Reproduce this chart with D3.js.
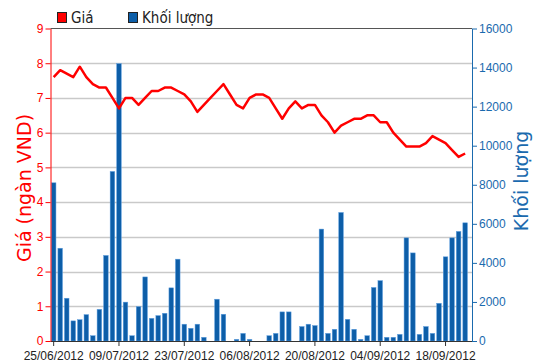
<!DOCTYPE html>
<html>
<head>
<meta charset="utf-8">
<script src="https://cdn.jsdelivr.net/npm/d3@7"></script>
<style>
    body { margin: 0; background: #fff; }
    .tick-lbl { font-family: "Liberation Sans Narrow", "Liberation Sans", Arial, sans-serif; font-size: 12px; }
</style>
</head>
<body>
<div id="chart-area"></div>
<script>

// price (ngàn VND), one value per trading day
let prices = [7.6, 7.8, 7.7, 7.6, 7.9, 7.6, 7.4, 7.3, 7.3, 7.0,
    6.7, 7.0, 7.0, 6.8, 7.0, 7.2, 7.2, 7.3, 7.3, 7.2,
    7.1, 6.9, 6.6, 6.8, 7.0, 7.2, 7.4, 7.1, 6.8, 6.7,
    7.0, 7.1, 7.1, 7.0, 6.7, 6.4, 6.7, 6.9, 6.7, 6.8,
    6.8, 6.5, 6.3, 6.0, 6.2, 6.3, 6.4, 6.4, 6.5, 6.5,
    6.3, 6.3, 6.0, 5.8, 5.6, 5.6, 5.6, 5.7, 5.9, 5.8,
    5.7, 5.5, 5.3, 5.4]

// volume per trading day
let volumes = [8100, 4750, 2190, 1030, 1090, 1350, 270, 1620, 4380, 8680,
    14200, 1990, 270, 1760, 3280, 1160, 1300, 1420, 2720, 4190,
    860, 650, 860, 190, 0, 2140, 1370, 0, 85, 390,
    85, 0, 0, 270, 390, 1490, 1490, 0, 740, 860,
    790, 5730, 390, 600, 6580, 1110, 600, 85, 270, 2740,
    3090, 190, 190, 340, 5280, 4510, 340, 740, 390, 1930,
    4310, 5280, 5610, 6050]

// x labels, one every 10 trading days
let tickLabels = ["25/06/2012", "09/07/2012", "23/07/2012", "06/08/2012", "20/08/2012", "04/09/2012", "18/09/2012"]
let tickIndex = [0, 10, 20, 30, 40, 50, 60]

let priceTicks = [0, 1, 2, 3, 4, 5, 6, 7, 8, 9]
let volTicks = [0, 2000, 4000, 6000, 8000, 10000, 12000, 14000, 16000]

let red = "#ff0000"
let blue = "#0d5ea8"
let axisBlue = "#1a6aae"

// plot box edges
let box = {left: 50.5, right: 472, top: 28.5, bottom: 341}

let svg = d3.select("#chart-area").append("svg")
    .attr("width", 550)
    .attr("height", 364)

// scales
let x = d3.scaleBand()
    .domain(d3.range(volumes.length))
    .range([50.4, 468.4])
    .paddingInner(0.3)
    .paddingOuter(0.15)

let yPrice = d3.scaleLinear().domain([0, 9]).range([box.bottom, box.top])
let yVol = d3.scaleLinear().domain([0, 16000]).range([box.bottom, box.top])

// gridlines
svg.append("g")
    .selectAll("line")
    .data(priceTicks.filter(d => d > 0 && d < 9))
    .enter().append("line")
    .attr("x1", box.left).attr("x2", box.right)
    .attr("y1", d => Math.round(yPrice(d)) + 0.5)
    .attr("y2", d => Math.round(yPrice(d)) + 0.5)
    .attr("stroke", "#c9c9c9")
    .attr("stroke-width", 1.5)

// top frame line
svg.append("line")
    .attr("x1", box.left).attr("x2", box.right)
    .attr("y1", box.top).attr("y2", box.top)
    .attr("stroke", "#555")

// volume bars
svg.append("g")
    .selectAll("rect")
    .data(volumes)
    .enter().append("rect")
    .attr("x", (d, i) => x(i))
    .attr("width", x.bandwidth())
    .attr("y", d => yVol(d))
    .attr("height", d => box.bottom - yVol(d))
    .attr("fill", blue)
    .attr("stroke", "#5d9ee0")
    .attr("stroke-width", 0.5)

// price line
let line = d3.line()
    .x((d, i) => x(i) + x.bandwidth() / 2)
    .y(d => yPrice(d))

svg.append("path")
    .datum(prices)
    .attr("d", line)
    .attr("fill", "none")
    .attr("stroke", red)
    .attr("stroke-width", 2.5)
    .attr("stroke-linejoin", "round")

// x axis
let xAxis = d3.axisBottom(x)
    .tickValues(tickIndex)
    .tickFormat((d, i) => tickLabels[i])
    .tickSize(5)
    .tickSizeOuter(0)

let gx = svg.append("g")
    .attr("transform", `translate(0, ${box.bottom})`)
    .call(xAxis)
gx.select(".domain").attr("d", `M${box.left},0.5H${box.right}`).attr("stroke", "#333")
gx.selectAll("line").attr("stroke", "#333")
gx.selectAll("text").attr("class", "tick-lbl").attr("fill", "#222").attr("y", 10)

// left axis (price)
let gl = svg.append("g")
    .attr("transform", `translate(${box.left}, 0)`)
    .call(d3.axisLeft(yPrice).tickValues(priceTicks).tickSize(5).tickSizeOuter(0))
gl.select(".domain").attr("stroke", red)
gl.selectAll("line").attr("stroke", red)
gl.selectAll("text").attr("class", "tick-lbl").attr("fill", red).attr("x", -7)

// right axis (volume)
let gr = svg.append("g")
    .attr("transform", `translate(${box.right}, 0)`)
    .call(d3.axisRight(yVol).tickValues(volTicks).tickFormat(d3.format("d")).tickSize(5).tickSizeOuter(0))
gr.select(".domain").attr("stroke", axisBlue)
gr.selectAll("line").attr("stroke", axisBlue)
gr.selectAll("text").attr("class", "tick-lbl").attr("fill", axisBlue).attr("x", 7)

// axis titles
svg.append("text")
    .attr("transform", "translate(31, 188) rotate(-90)")
    .attr("text-anchor", "middle")
    .style("font-family", "DejaVu Sans, Verdana, sans-serif")
    .style("font-size", "19px")
    .attr("fill", red)
    .text("Giá (ngàn VND)")

svg.append("text")
    .attr("transform", "translate(528, 181) rotate(-90)")
    .attr("text-anchor", "middle")
    .style("font-family", "DejaVu Sans, Verdana, sans-serif")
    .style("font-size", "19px")
    .attr("fill", axisBlue)
    .text("Khối lượng")

// legend
let legend = [{name: "Giá", color: red, x: 57}, {name: "Khối lượng", color: blue, x: 128}]
let lg = svg.append("g")
lg.selectAll("rect")
    .data(legend)
    .enter().append("rect")
    .attr("x", d => d.x + 0.5).attr("y", 12.5)
    .attr("width", 9).attr("height", 10)
    .attr("fill", d => d.color)
    .attr("stroke", "#222")
lg.selectAll("text")
    .data(legend)
    .enter().append("text")
    .attr("x", d => d.x + 14).attr("y", 23)
    .style("font-family", "DejaVu Sans Condensed, DejaVu Sans, sans-serif")
    .style("font-size", "15px")
    .attr("fill", "#222")
    .text(d => d.name)

</script>
</body>
</html>
